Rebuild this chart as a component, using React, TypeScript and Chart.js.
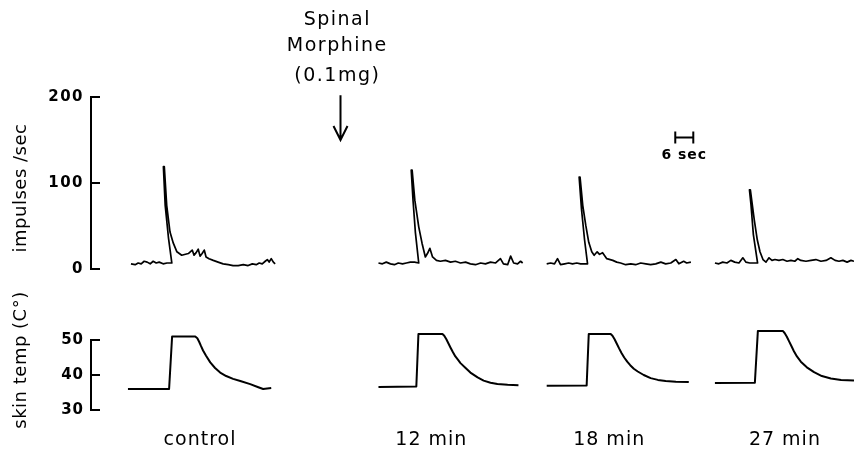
import React, { useEffect, useRef } from "react";
import { Chart, registerables } from "chart.js";

Chart.register(...registerables);

const W = 854;
const H = 450;

// Time axis in seconds along the recording (scale bar = 6 sec)
// Impulses/sec traces (pen rises back to the peak, then decays)
const impControlT = [13.3, 14.7, 15.7, 16.7, 17.7, 18.7, 19.7, 20.7, 21.7, 22.7, 24.0, 25.3, 26.9, 25.8, 24.7, 24.1, 24.4, 25.2, 26.3, 27.4, 28.6, 30.2, 32.4, 33.7, 34.3, 35.0, 35.7, 36.3, 37.0, 37.7, 38.3, 39.3, 40.7, 42.3, 44.0, 45.7, 47.3, 49.0, 50.7, 52.3, 53.7, 55.0, 56.0, 57.0, 58.0, 58.7, 59.3, 60.0, 60.7, 61.3];
const impControlV = [6, 5, 7, 6, 9, 8, 6, 9, 7, 8, 6, 7, 7, 36, 74, 119, 119, 74, 43, 30, 20, 16, 18, 22, 16, 19, 23, 15, 18, 22, 14, 12, 10, 8, 6, 5, 4, 4, 5, 4, 6, 5, 7, 6, 9, 11, 8, 12, 8, 6];

const imp12T = [95.7, 97.0, 98.3, 99.7, 101.0, 102.3, 103.7, 105.0, 106.3, 107.7, 109.1, 108.0, 107.2, 106.6, 106.9, 107.8, 109.1, 110.2, 111.3, 112.0, 112.8, 113.7, 115.0, 116.3, 118.0, 119.7, 121.3, 123.0, 124.7, 126.3, 128.0, 129.7, 131.3, 133.0, 134.7, 136.3, 137.3, 138.7, 139.7, 140.7, 142.0, 143.0, 143.7];
const imp12V = [7, 6, 8, 6, 5, 7, 6, 7, 8, 8, 7, 42, 80, 115, 115, 80, 49, 30, 14, 18, 24, 14, 10, 9, 10, 8, 9, 7, 8, 6, 5, 7, 6, 8, 7, 12, 6, 5, 15, 7, 6, 9, 7];

const imp18T = [151.7, 153.0, 154.3, 155.3, 156.3, 157.7, 159.0, 160.3, 161.7, 163.0, 164.3, 165.3, 164.3, 163.3, 162.5, 162.8, 163.7, 164.7, 165.7, 166.7, 167.5, 168.5, 169.3, 170.3, 171.7, 173.7, 175.0, 176.3, 178.0, 179.7, 181.3, 183.0, 184.7, 186.3, 188.0, 189.7, 191.3, 193.0, 194.7, 195.7, 197.3, 198.3, 199.7];
const imp18V = [6, 7, 6, 12, 5, 6, 7, 6, 7, 6, 6, 6, 34, 69, 107, 107, 74, 51, 31, 20, 16, 20, 17, 19, 12, 10, 8, 7, 5, 6, 5, 7, 6, 5, 6, 8, 6, 7, 11, 6, 9, 7, 8];

const imp27T = [207.7, 209.0, 210.3, 211.7, 213.0, 214.3, 215.7, 217.0, 218.0, 219.3, 220.7, 221.9, 220.5, 219.7, 219.2, 219.5, 220.8, 221.8, 222.7, 223.7, 224.7, 225.7, 226.7, 227.7, 229.0, 230.3, 231.7, 233.0, 234.3, 235.3, 236.3, 238.0, 239.7, 241.3, 243.0, 244.7, 246.3, 247.7, 249.0, 250.3, 251.7, 253.0, 254.0];
const imp27V = [7, 6, 8, 7, 10, 8, 7, 13, 8, 7, 7, 7, 40, 75, 92, 92, 57, 34, 20, 11, 8, 13, 10, 11, 10, 11, 9, 10, 9, 12, 10, 9, 10, 11, 9, 10, 13, 10, 9, 10, 8, 10, 9];

// Skin temperature traces (°C)
const tempControlT = [12.3, 26.0, 27.0, 34.7, 35.4, 36.0, 36.6, 37.3, 38.3, 39.7, 41.3, 43.0, 45.0, 47.3, 49.7, 53.0, 55.7, 57.3, 60.0];
const tempControlV = [36, 36, 51, 51, 50.5, 49.5, 48.3, 47.0, 45.5, 43.6, 42.0, 40.7, 39.7, 38.9, 38.3, 37.4, 36.5, 36, 36.3];

const temp12T = [95.7, 108.3, 109.0, 117.0, 117.6, 118.3, 119.0, 119.7, 120.5, 121.3, 122.2, 123.0, 124.7, 126.3, 128.7, 130.7, 133.0, 135.3, 138.7, 142.3];
const temp12V = [36.6, 36.7, 51.7, 51.7, 51.2, 50.2, 49.0, 47.8, 46.5, 45.3, 44.3, 43.4, 42, 40.7, 39.3, 38.4, 37.8, 37.4, 37.2, 37.1];

const temp18T = [151.7, 165.0, 165.7, 173.0, 173.6, 174.3, 175.0, 175.8, 176.6, 177.5, 178.5, 179.5, 180.7, 182.0, 184.0, 186.3, 188.7, 191.3, 194.7, 199.0];
const temp18V = [36.9, 37, 51.7, 51.7, 51.2, 50.2, 49.0, 47.6, 46.3, 45.0, 43.8, 42.8, 41.8, 41, 40, 39.1, 38.6, 38.3, 38.1, 38];

const temp27T = [207.7, 221.0, 222.0, 230.3, 230.9, 231.6, 232.4, 233.2, 234.0, 235.0, 236.3, 238.3, 240.7, 243.3, 246.3, 249.7, 254.0];
const temp27V = [37.7, 37.8, 52.6, 52.6, 52.0, 51.0, 49.6, 48.2, 46.8, 45.3, 43.8, 42.2, 40.8, 39.7, 39, 38.6, 38.4];

// Labels and ticks
const segmentLabels = ["control", "12 min", "18 min", "27 min"];
const segmentLabelT = [36.3, 113.3, 172.5, 231];
const impulseTicks = [0, 100, 200];
const tempTicks = [30, 40, 50];
const impulseTitle = "impulses /sec";
const tempTitle = "skin temp (C°)";
const drugLines = ["Spinal", "Morphine", "(0.1mg)"];
const drugLineValues = [290, 259, 224];
const drugT = 82;
const arrowT = 83;
const arrowFrom = 202;
const arrowTo = 150;
const scaleBarStart = 194.5;
const scaleBarSeconds = 6;
const scaleBarValue = 153.5;
const scaleBarLabel = "6 sec";
const scaleBarLabelValue = 132.5;

const FONT = '"DejaVu Sans", sans-serif';
const T_MIN = 0;
const T_MAX = 254;

const zip = (t: number[], v: number[]) => t.map((x, i) => ({ x, y: v[i] }));

const lineDs = (t: number[], v: number[], width: number) => ({
  data: zip(t, v),
  borderColor: "#000",
  borderWidth: width,
  borderJoinStyle: "round" as const,
  pointRadius: 0,
  showLine: true,
  tension: 0,
  fill: false,
  clip: false as any,
});

const yAxis = (min: number, max: number, ticks: number[]) => ({
  type: "linear" as const,
  position: "left" as const,
  min,
  max,
  afterFit: (s: any) => {
    s.width = 91;
  },
  afterBuildTicks: (s: any) => {
    s.ticks = ticks.map((v) => ({ value: v }));
  },
  border: { display: true, color: "#000", width: 2 },
  grid: { drawOnChartArea: false, drawTicks: true, tickLength: -9, color: "#000", lineWidth: 2 },
  ticks: { padding: 16, color: "#000", font: { family: FONT, size: 15, weight: "bold" as const } },
});

export default function App() {
  const topRef = useRef<HTMLCanvasElement>(null);
  const botRef = useRef<HTMLCanvasElement>(null);

  useEffect(() => {
    if (!topRef.current || !botRef.current) return;
    Chart.defaults.font.family = FONT;
    Chart.defaults.color = "#000";

    const topPlugin = {
      id: "topAnnot",
      beforeDraw(chart: any) {
        chart.ctx.letterSpacing = "1.5px";
      },
      afterDraw(chart: any) {
        const { ctx, scales } = chart;
        const x = scales.x;
        const y = scales.y;
        ctx.save();
        ctx.fillStyle = "#000";
        ctx.strokeStyle = "#000";
        ctx.textAlign = "center";
        ctx.textBaseline = "middle";
        // drug annotation
        ctx.font = `19px ${FONT}`;
        ctx.letterSpacing = "1.5px";
        drugLines.forEach((s, i) => {
          ctx.fillText(s, x.getPixelForValue(drugT), y.getPixelForValue(drugLineValues[i]));
        });
        // arrow
        const ax = Math.round(x.getPixelForValue(arrowT)) + 0.5;
        const y0 = y.getPixelForValue(arrowFrom);
        const y1 = y.getPixelForValue(arrowTo);
        ctx.lineWidth = 2;
        ctx.beginPath();
        ctx.moveTo(ax, y0);
        ctx.lineTo(ax, y1);
        ctx.moveTo(ax - 7, y1 - 14);
        ctx.lineTo(ax, y1);
        ctx.lineTo(ax + 7, y1 - 14);
        ctx.stroke();
        // scale bar
        const sx0 = x.getPixelForValue(scaleBarStart);
        const sx1 = x.getPixelForValue(scaleBarStart + scaleBarSeconds);
        const sy = Math.round(y.getPixelForValue(scaleBarValue)) + 0.5;
        ctx.beginPath();
        ctx.moveTo(sx0, sy);
        ctx.lineTo(sx1, sy);
        ctx.moveTo(sx0, sy - 6);
        ctx.lineTo(sx0, sy + 6);
        ctx.moveTo(sx1, sy - 6);
        ctx.lineTo(sx1, sy + 6);
        ctx.stroke();
        ctx.font = `bold 14px ${FONT}`;
        ctx.letterSpacing = "1px";
        ctx.fillText(scaleBarLabel, x.getPixelForValue(scaleBarStart + scaleBarSeconds / 2), y.getPixelForValue(scaleBarLabelValue));
        // y title
        ctx.font = `18px ${FONT}`;
        ctx.letterSpacing = "0.5px";
        ctx.translate(21, (y.top + y.bottom) / 2 + 5);
        ctx.rotate(-Math.PI / 2);
        ctx.fillText(impulseTitle, 0, 0);
        ctx.restore();
      },
    };

    const botPlugin = {
      id: "botAnnot",
      beforeDraw(chart: any) {
        chart.ctx.letterSpacing = "1px";
      },
      afterDraw(chart: any) {
        const { ctx, scales } = chart;
        const y = scales.y;
        ctx.save();
        ctx.fillStyle = "#000";
        ctx.textAlign = "center";
        ctx.textBaseline = "middle";
        ctx.font = `18px ${FONT}`;
        ctx.letterSpacing = "0.5px";
        ctx.translate(21, (y.top + y.bottom) / 2 - 15);
        ctx.rotate(-Math.PI / 2);
        ctx.fillText(tempTitle, 0, 0);
        ctx.restore();
      },
    };

    const top = new Chart(topRef.current, {
      type: "scatter",
      data: {
        datasets: [
          lineDs(impControlT, impControlV, 1.7),
          lineDs(imp12T, imp12V, 1.7),
          lineDs(imp18T, imp18V, 1.7),
          lineDs(imp27T, imp27V, 1.7),
        ],
      },
      options: {
        responsive: false,
        animation: false,
        devicePixelRatio: 1,
        events: [],
        layout: { padding: { top: 97, bottom: 181, left: 0, right: 0 } },
        plugins: { legend: { display: false }, tooltip: { enabled: false } },
        scales: {
          x: { type: "linear", min: T_MIN, max: T_MAX, display: false },
          y: yAxis(0, 200, impulseTicks) as any,
        },
      },
      plugins: [topPlugin],
    });

    const bot = new Chart(botRef.current, {
      type: "scatter",
      data: {
        datasets: [
          lineDs(tempControlT, tempControlV, 2),
          lineDs(temp12T, temp12V, 2),
          lineDs(temp18T, temp18V, 2),
          lineDs(temp27T, temp27V, 2),
        ],
      },
      options: {
        responsive: false,
        animation: false,
        devicePixelRatio: 1,
        events: [],
        layout: { padding: { top: 340, bottom: 0, left: 0, right: 0 } },
        plugins: { legend: { display: false }, tooltip: { enabled: false } },
        scales: {
          x: {
            type: "linear",
            position: "bottom",
            min: T_MIN,
            max: T_MAX,
            afterFit: (s: any) => {
              s.height = 40;
            },
            afterBuildTicks: (s: any) => {
              s.ticks = segmentLabelT.map((v) => ({ value: v }));
            },
            grid: { display: false, drawTicks: false },
            border: { display: false },
            ticks: {
              autoSkip: false,
              maxRotation: 0,
              padding: 19,
              color: "#000",
              font: { family: FONT, size: 19 },
              callback: (_v: any, i: number) => segmentLabels[i],
            },
          } as any,
          y: yAxis(30, 50, tempTicks) as any,
        },
      },
      plugins: [botPlugin],
    });

    return () => {
      top.destroy();
      bot.destroy();
    };
  }, []);

  return (
    <div style={{ position: "fixed", left: 0, top: 0, width: W, height: H, background: "#fff" }}>
      <canvas ref={topRef} width={W} height={H} style={{ position: "absolute", left: 0, top: 0 }} />
      <canvas ref={botRef} width={W} height={H} style={{ position: "absolute", left: 0, top: 0 }} />
    </div>
  );
}
